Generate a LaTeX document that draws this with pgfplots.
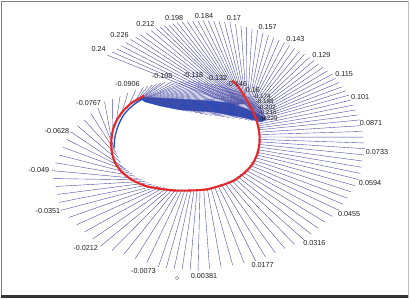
\documentclass[border=0pt]{standalone}
\usepackage{pgfplots}
\pgfplotsset{compat=1.18}
\usepackage{pgfplotstable}
\usepackage{fontspec}
\setmainfont{Liberation Sans}
\definecolor{lc}{RGB}{75,75,165}
\definecolor{bc}{RGB}{35,75,185}
\definecolor{rc}{RGB}{230,40,40}
\definecolor{tc}{RGB}{30,30,30}
\tikzset{lab/.style={font=\fontsize{7.3}{8}\selectfont, text=tc, inner sep=0pt},
  labs/.style={font=\fontsize{6.3}{7}\selectfont, text=tc, inner sep=0pt}}
\pgfplotstableread{
xa ya xb yb
236 106 107 55
236.4 105.8 111.6 51.8
236.8 105.6 116.2 48.6
237.2 105.4 120.8 45.4
237.6 105.2 125.4 42.2
238 105 130 39
238.4 104.8 135.2 36.8
238.8 104.6 140.4 34.6
239.2 104.4 145.6 32.4
239.6 104.2 150.8 30.2
240 104 156 28
240.4 104 160.2 26.8
240.8 104 164.4 25.6
241.2 104 168.6 24.4
241.6 104 172.8 23.2
242 104 177 22
242.4 104 182.2 21.6
242.8 104 187.4 21.2
243.2 104 192.6 20.8
243.6 104 197.8 20.4
244 104 203 20
244.4 104.2 208.4 20.4
244.8 104.4 213.8 20.8
245.2 104.6 219.2 21.2
245.6 104.8 224.6 21.6
246 105 230 22
246.4 105.4 235.6 23.6
246.8 105.8 241.2 25.2
247.2 106.2 246.8 26.8
247.6 106.6 252.4 28.4
248 107 258 30
248.4 107.4 263.4 32.4
248.8 107.8 268.8 34.8
249.2 108.2 274.2 37.2
249.6 108.6 279.6 39.6
250 109 285 42
250.4 109.6 290 45
250.8 110.2 295 48
251.2 110.8 300 51
251.6 111.4 305 54
252 112 310 57
252.4 112.8 314.6 60.4
252.8 113.6 319.2 63.8
253.2 114.4 323.8 67.2
253.6 115.2 328.4 70.6
254 116 333 74
254.4 117 336.4 78.2
254.8 118 339.8 82.4
255.2 119 343.2 86.6
255.6 120 346.6 90.8
256 121 350 95
256.4 122.8 352.2 100
256.8 124.6 354.4 105
257.2 126.4 356.6 110
257.6 128.2 358.8 115
258 130 361 120
258.2 132.4 362 125.8
258.4 134.8 363 131.6
258.6 137.2 364 137.4
258.8 139.6 365 143.2
259 142 366 149
258.4 144.6 364.8 155.2
257.8 147.2 363.6 161.4
257.2 149.8 362.4 167.6
256.6 152.4 361.2 173.8
256 155 360 180
254.4 157.6 356 186.2
252.8 160.2 352 192.4
251.2 162.8 348 198.6
249.6 165.4 344 204.8
248 168 340 211
245.4 170.2 333 217
242.8 172.4 326 223
240.2 174.6 319 229
237.6 176.8 312 235
235 179 305 241
231.6 180.4 295.2 245.2
228.2 181.8 285.4 249.4
224.8 183.2 275.6 253.6
221.4 184.6 265.8 257.8
218 186 256 262
214.4 186.8 244.4 264
210.8 187.6 232.8 266
207.2 188.4 221.2 268
203.6 189.2 209.6 270
200 190 198 272
197 190 190 271.2
194 190 182 270.4
191 190 174 269.6
188 190 166 268.8
185 190 158 268
182 189.8 146.4 263.8
179 189.6 134.8 259.6
176 189.4 123.2 255.4
173 189.2 111.6 251.2
170 189 100 247
167 188.4 92 239.8
164 187.8 84 232.6
161 187.2 76 225.4
158 186.6 68 218.2
155 186 60 211
151.6 184.6 58.2 203
148.2 183.2 56.4 195
144.8 181.8 54.6 187
141.4 180.4 52.8 179
138 179 51 171
134.8 176.6 54.8 163.2
131.6 174.2 58.6 155.4
128.4 171.8 62.4 147.6
125.2 169.4 66.2 139.8
122 167 70 132
120 162.6 76.8 126
118 158.2 83.6 120
116 153.8 90.4 114
114 149.4 97.2 108
112 145 104 102
112 136 111.8 99
115 126 119.6 96
120 117 127.4 93
127 109 135.2 90
134 103 143 87
135.4 102.2 147.4 86
136.8 101.4 151.8 85
138.2 100.6 156.2 84
139.6 99.8 160.6 83
141 99 165 82
141.6 99 171.2 81.8
142.2 99 177.4 81.6
142.8 99 183.6 81.4
143.4 99 189.8 81.2
144 99 196 81
144.8 99.4 200.4 81.8
145.6 99.8 204.8 82.6
146.4 100.2 209.2 83.4
147.2 100.6 213.6 84.2
148 101 218 85
149 101.4 221.6 86
150 101.8 225.2 87
151 102.2 228.8 88
152 102.6 232.4 89
153 103 236 90
154.4 103.6 238.6 91.2
155.8 104.2 241.2 92.4
157.2 104.8 243.8 93.6
158.6 105.4 246.4 94.8
160 104 249 96
162.4 104.8 250.6 97.2
164.8 105.6 252.2 98.4
167.2 106.4 253.8 99.6
169.6 107.2 255.4 100.8
172 108 257 102
175.6 108.8 257.8 103
179.2 109.6 258.6 104
182.8 110.4 259.4 105
186.4 111.2 260.2 106
190 112 261 107
195 112.8 261.2 107.8
200 113.6 261.4 108.6
205 114.4 261.6 109.4
210 115.2 261.8 110.2
215 116 262 111
221 116.8 262.4 111.6
227 117.6 262.8 112.2
233 118.4 263.2 112.8
239 119.2 263.6 113.4
245 120 264 114
248.4 120.4 264.6 114.8
251.8 120.8 265.2 115.6
255.2 121.2 265.8 116.4
258.6 121.6 266.4 117.2
262 122 267 118
}\lines
\begin{document}
\begin{tikzpicture}
\begin{axis}[
  scale only axis, width=410bp, height=299bp,
  xmin=0, xmax=410, ymin=0, ymax=299, y dir=reverse,
  hide axis, clip=false,
]
% frame
\addplot[gray, line width=1.2bp] coordinates {(0,0.6) (410,0.6)};
\addplot[gray, line width=1.2bp] coordinates {(0.6,0) (0.6,299)};
\addplot[black!80, line width=2.4bp] coordinates {(0,297.8) (410,297.8)};
\addplot[black!25, line width=0.8bp] coordinates {(409.4,0) (409.4,299)};
% dense band
\addplot[fill=bc, draw=bc, line width=0.3pt] coordinates {
(140,97) (160,98) (180,99) (213,101) (230,103) (247,109) (260,115) (267,119)
(262,122) (240,117) (213,112) (180,110) (160,106) (145,102) (140,99)} -- cycle;
% lines
\addplot[lc, line width=0.4pt, no markers,
  quiver={u=\thisrow{xb}-\thisrow{xa}, v=\thisrow{yb}-\thisrow{ya}}]
  table[x=xa, y=ya] {\lines};
% inner blue edge on the left
\addplot[bc, line width=1.3pt, smooth] coordinates {(142,99) (133,105) (124,114) (118,125) (114.5,137) (113.5,148)};
% red curve
\addplot[rc, line width=2.1pt, smooth, mark=x, mark size=1.3pt, mark options={line width=0.6pt}] coordinates {
(143,96) (131,103) (121,113) (114,125) (111,138) (111,150) (114,162) (121,172) (131,180) (144,186) (158,189) (174,191) (190,191) (206,190) (221,186) (234,181) (245,173) (253,164) (258,153) (260,141) (259,129) (256,118) (251,107) (244,95) (238,86) (233,81)};
% small circle
\addplot[only marks, mark=o, mark size=1.8pt, black!60] coordinates {(177,279)};
% labels
\node[lab] at (98,49) {0.24};
\node[lab] at (119,35) {0.226};
\node[lab] at (145,24) {0.212};
\node[lab] at (174,18) {0.198};
\node[lab] at (204,16) {0.184};
\node[lab] at (234,18) {0.17};
\node[lab] at (268,27) {0.157};
\node[lab] at (296,39) {0.143};
\node[lab] at (322,55) {0.129};
\node[lab] at (345,74) {0.115};
\node[lab] at (361,97) {0.101};
\node[lab] at (372,123) {0.0871};
\node[lab] at (378,152) {0.0733};
\node[lab] at (371,183) {0.0594};
\node[lab] at (350,215) {0.0455};
\node[lab] at (315,244) {0.0316};
\node[lab] at (263,266) {0.0177};
\node[lab] at (204,277) {0.00381};
\node[lab] at (143,272) {-0.0073};
\node[lab] at (85,249) {-0.0212};
\node[lab] at (47,212) {-0.0351};
\node[lab] at (38,170) {-0.049};
\node[lab] at (56,131) {-0.0628};
\node[lab] at (88,103) {-0.0767};
\node[lab] at (127,84) {-0.0906};
\node[lab] at (162,76) {-0.105};
\node[lab] at (193,75) {-0.118};
\node[lab] at (217,78) {-0.132};
\node[lab] at (237,84) {-0.146};
\node[lab] at (252,89.5) {-0.16};
\node[labs] at (262,96) {-0.174};
\node[labs] at (265,101.5) {-0.188};
\node[labs] at (267,107) {-0.202};
\node[labs] at (268,112.5) {-0.216};
\node[labs] at (269,118) {-0.229};
\end{axis}
\end{tikzpicture}
\end{document}
